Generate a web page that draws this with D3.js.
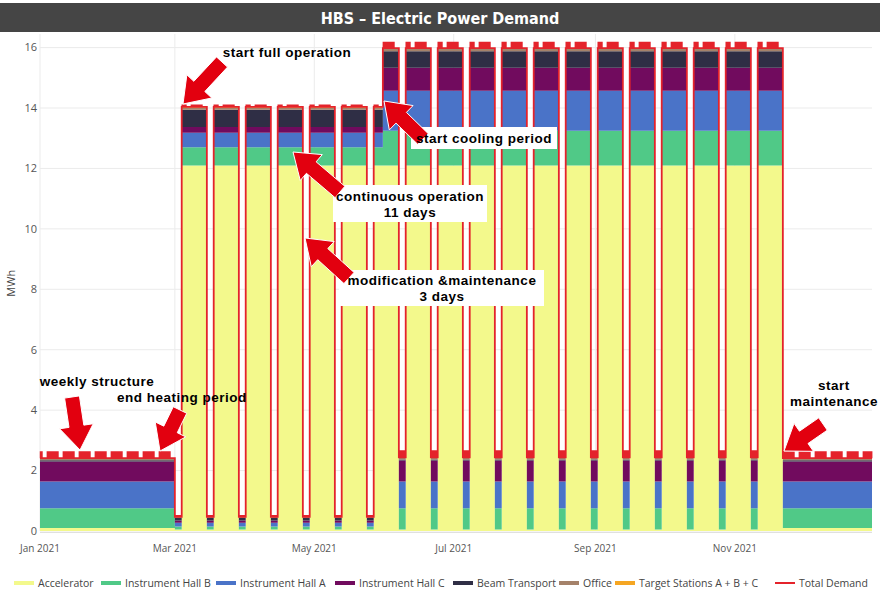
<!DOCTYPE html>
<html>
<head>
<meta charset="utf-8">
<script src="https://cdn.jsdelivr.net/npm/d3@7"></script>
<style>
  body { margin: 0; background: #fff; }
  svg { display: block; }
</style>
</head>
<body>
<svg id="chart" width="880" height="592"></svg>
<script>
// ---- values ----
const components = ["Accelerator", "Instrument Hall B", "Instrument Hall A", "Instrument Hall C",
                    "Beam Transport", "Office", "Target Stations A + B + C"]
const colors = ["#f3f98c", "#50c987", "#4a73c8", "#710b5e", "#2f2e45", "#a5826a", "#f5a623"]

// MWh per component, same order as components
const standby       = [0.10, 0.65, 0.89, 0.66, 0.04, 0.05, 0.02]   // Jan-Feb and December
const springService = [0.05, 0.10, 0.12, 0.08, 0.09, 0.02, 0.01]   // 3-day stops before cooling
const springRun     = [12.10, 0.60, 0.48, 0.19, 0.57, 0.07, 0.03]
const summerService = [0.05, 0.70, 0.89, 0.69, 0.04, 0.05, 0.02]   // 3-day stops with cooling
const summerRun     = [12.10, 1.15, 1.32, 0.76, 0.55, 0.07, 0.03]
// extra demand on working days (day shift), only seen on the Total Demand line
const workdayPeak = { standby: 0.20, springService: 0.03, springRun: 0.05, summerService: 0.20, summerRun: 0.18 }

const heatingEnd = "2021-03-01"
const coolingStart = "2021-05-31"
const runStarts = ["2021-03-04", "2021-03-18", "2021-04-01", "2021-04-15", "2021-04-29", "2021-05-13",
                   "2021-05-27", "2021-06-10", "2021-06-24", "2021-07-08", "2021-07-22", "2021-08-05",
                   "2021-08-19", "2021-09-02", "2021-09-16", "2021-09-30", "2021-10-14", "2021-10-28",
                   "2021-11-11"]
const runLength = 11
const firstDay = "2021-01-01"
const endDay = "2021-12-31"

const yTicks = [0, 2, 4, 6, 8, 10, 12, 14, 16]
const xTicks = ["2021-01-01", "2021-03-01", "2021-05-01", "2021-07-01", "2021-09-01", "2021-11-01"]

// ---- build the daily table ----
const parse = d3.utcParse("%Y-%m-%d")
const runs = runStarts.map(s => [parse(s), d3.utcDay.offset(parse(s), runLength)])
const levels = { standby, springService, springRun, summerService, summerRun }

function stateOf(day) {
  if (day < parse(heatingEnd)) return "standby"
  if (day >= runs[runs.length - 1][1]) return "standby"
  const cool = day >= parse(coolingStart)
  const running = runs.some(r => day >= r[0] && day < r[1])
  if (running) return cool ? "summerRun" : "springRun"
  return cool ? "summerService" : "springService"
}

const days = d3.utcDay.range(parse(firstDay), parse(endDay))
const table = days.map(day => {
  const row = { date: day, state: stateOf(day) }
  components.forEach((c, i) => row[c] = levels[row.state][i])
  return row
})
const closing = Object.assign({}, table[table.length - 1], { date: parse(endDay) })
const tableAll = table.concat([closing])

const totalPts = []
table.forEach(r => {
  const base = d3.sum(components, c => r[c])
  totalPts.push([r.date, base])
  const wd = r.date.getUTCDay()
  if (wd >= 1 && wd <= 5) {
    totalPts.push([d3.utcHour.offset(r.date, 7), base + workdayPeak[r.state]])
    totalPts.push([d3.utcHour.offset(r.date, 19), base])
  }
})
totalPts.push([parse(endDay), totalPts[totalPts.length - 1][1]])

// ---- chart ----
const svg = d3.select("#chart")
const plotLeft = 40, plotRight = 872, plotTop = 34, plotBottom = 531

const x = d3.scaleUtc().domain([parse(firstDay), parse(endDay)]).range([plotLeft, plotRight])
const y = d3.scaleLinear().domain([0, 16.45]).range([plotBottom, plotTop])

// grid
svg.append("g").selectAll("line").data(yTicks).join("line")
  .attr("x1", plotLeft).attr("x2", plotRight)
  .attr("y1", d => y(d)).attr("y2", d => y(d))
  .attr("stroke", "#ebebeb")
svg.append("g").selectAll("line").data(xTicks).join("line")
  .attr("x1", d => x(parse(d))).attr("x2", d => x(parse(d)))
  .attr("y1", plotTop).attr("y2", plotBottom)
  .attr("stroke", "#ebebeb")

// stacked areas
const stack = d3.stack().keys(components)
const series = stack(tableAll)
const area = d3.area()
  .x(d => x(d.data.date))
  .y0(d => y(d[0]))
  .y1(d => y(d[1]))
  .curve(d3.curveStepAfter)

svg.append("g").selectAll("path").data(series).join("path")
  .attr("d", area)
  .attr("fill", (d, i) => colors[i])

// total demand line
const line = d3.line().x(d => x(d[0])).y(d => y(d[1])).curve(d3.curveStepAfter)
svg.append("path")
  .datum(totalPts)
  .attr("d", line)
  .attr("fill", "none")
  .attr("stroke", "#e4232b")
  .attr("stroke-width", 1.8)

// axes labels
svg.append("line").attr("x1", plotLeft).attr("x2", plotRight)
  .attr("y1", plotBottom + 1.5).attr("y2", plotBottom + 1.5)
  .attr("stroke", "#e0e0e0")

svg.append("g").selectAll("text").data(yTicks).join("text")
  .attr("x", plotLeft - 3).attr("y", d => y(d)).attr("dy", "0.35em")
  .attr("text-anchor", "end")
  .style("font", "11px 'Open Sans', sans-serif").attr("fill", "#555")
  .text(d => d)

const fmt = d3.utcFormat("%b %Y")
svg.append("g").selectAll("text").data(xTicks).join("text")
  .attr("x", d => x(parse(d))).attr("y", 552)
  .attr("text-anchor", "middle")
  .style("font", "10px 'Open Sans', sans-serif").attr("fill", "#555")
  .text(d => fmt(parse(d)))

svg.append("text")
  .attr("transform", "translate(15," + (y(8.2)) + ") rotate(-90)")
  .attr("text-anchor", "middle")
  .style("font", "11px 'Open Sans', sans-serif").attr("fill", "#444")
  .text("MWh")

// title bar
svg.append("rect").attr("x", 0).attr("y", 3).attr("width", 880).attr("height", 29).attr("fill", "#454545")
svg.append("text")
  .attr("x", 440).attr("y", 18).attr("dy", "0.35em")
  .attr("text-anchor", "middle")
  .style("font", "bold 16px 'Liberation Sans Narrow', 'DejaVu Sans Condensed', sans-serif")
  .attr("fill", "#fff")
  .text("HBS \u2013 Electric Power Demand")

// annotations: block arrows and labels
function arrowPath(x1, y1, x2, y2, shaft, headW, headL) {
  const len = Math.hypot(x2 - x1, y2 - y1)
  const ux = (x2 - x1) / len, uy = (y2 - y1) / len
  const nx = -uy, ny = ux
  const bx = x2 - ux * headL, by = y2 - uy * headL
  const p = [
    [x1 + nx * shaft / 2, y1 + ny * shaft / 2],
    [bx + nx * shaft / 2, by + ny * shaft / 2],
    [bx + nx * headW / 2, by + ny * headW / 2],
    [x2, y2],
    [bx - nx * headW / 2, by - ny * headW / 2],
    [bx - nx * shaft / 2, by - ny * shaft / 2],
    [x1 - nx * shaft / 2, y1 - ny * shaft / 2]
  ]
  return "M" + p.map(q => q.join(",")).join("L") + "Z"
}

const notes = [
  { lines: ["start full operation"], cx: 287, cy: 52, box: null, arrow: [222, 62, 183, 104] },
  { lines: ["start cooling period"], cx: 484, cy: 138, box: [411, 127, 146, 22], arrow: [423, 139, 384, 101] },
  { lines: ["continuous operation", "11 days"], cx: 410, cy: 196, box: [333, 185, 154, 37], arrow: [340, 192, 293, 152] },
  { lines: ["modification &maintenance", "3 days"], cx: 442, cy: 280, box: [339, 270, 205, 36], arrow: [349, 278, 305, 238] },
  { lines: ["weekly structure"], cx: 97, cy: 381, box: null, arrow: [72, 397, 80, 450] },
  { lines: ["end heating period"], cx: 182, cy: 397, box: null, arrow: [180, 410, 160, 451] },
  { lines: ["start", "maintenance"], cx: 834, cy: 385, box: null, arrow: [823, 424, 784, 451] }
]

const ann = svg.append("g")
notes.forEach(n => {
  if (n.box) ann.append("rect").attr("x", n.box[0]).attr("y", n.box[1])
    .attr("width", n.box[2]).attr("height", n.box[3]).attr("fill", "#fff")
  const a = n.arrow
  ann.append("path").attr("d", arrowPath(a[0], a[1], a[2], a[3], 15, 34, 24))
    .attr("fill", "#e2000f").attr("stroke", "#fff").attr("stroke-width", 1)
  n.lines.forEach((t, i) => {
    ann.append("text")
      .attr("x", n.cx).attr("y", n.cy + i * 16).attr("dy", "0.35em")
      .attr("text-anchor", "middle")
      .style("font", "bold 13.5px 'Liberation Sans', Arial, sans-serif")
      .style("letter-spacing", "0.5px")
      .attr("fill", "#000")
      .text(t)
  })
})

// legend
const legendX = [14, 101, 216, 335, 453, 559, 615, 775]
const legendNames = components.concat(["Total Demand"])
const legendColors = colors.concat(["#e4232b"])
const lg = svg.append("g")
legendNames.forEach((name, i) => {
  lg.append("line")
    .attr("x1", legendX[i]).attr("x2", legendX[i] + 20)
    .attr("y1", 583).attr("y2", 583)
    .attr("stroke", legendColors[i])
    .attr("stroke-width", i === 7 ? 2 : 4)
  lg.append("text")
    .attr("x", legendX[i] + 24).attr("y", 583).attr("dy", "0.35em")
    .style("font", "10.5px 'Open Sans', sans-serif").attr("fill", "#444")
    .text(name)
})
</script>
</body>
</html>
